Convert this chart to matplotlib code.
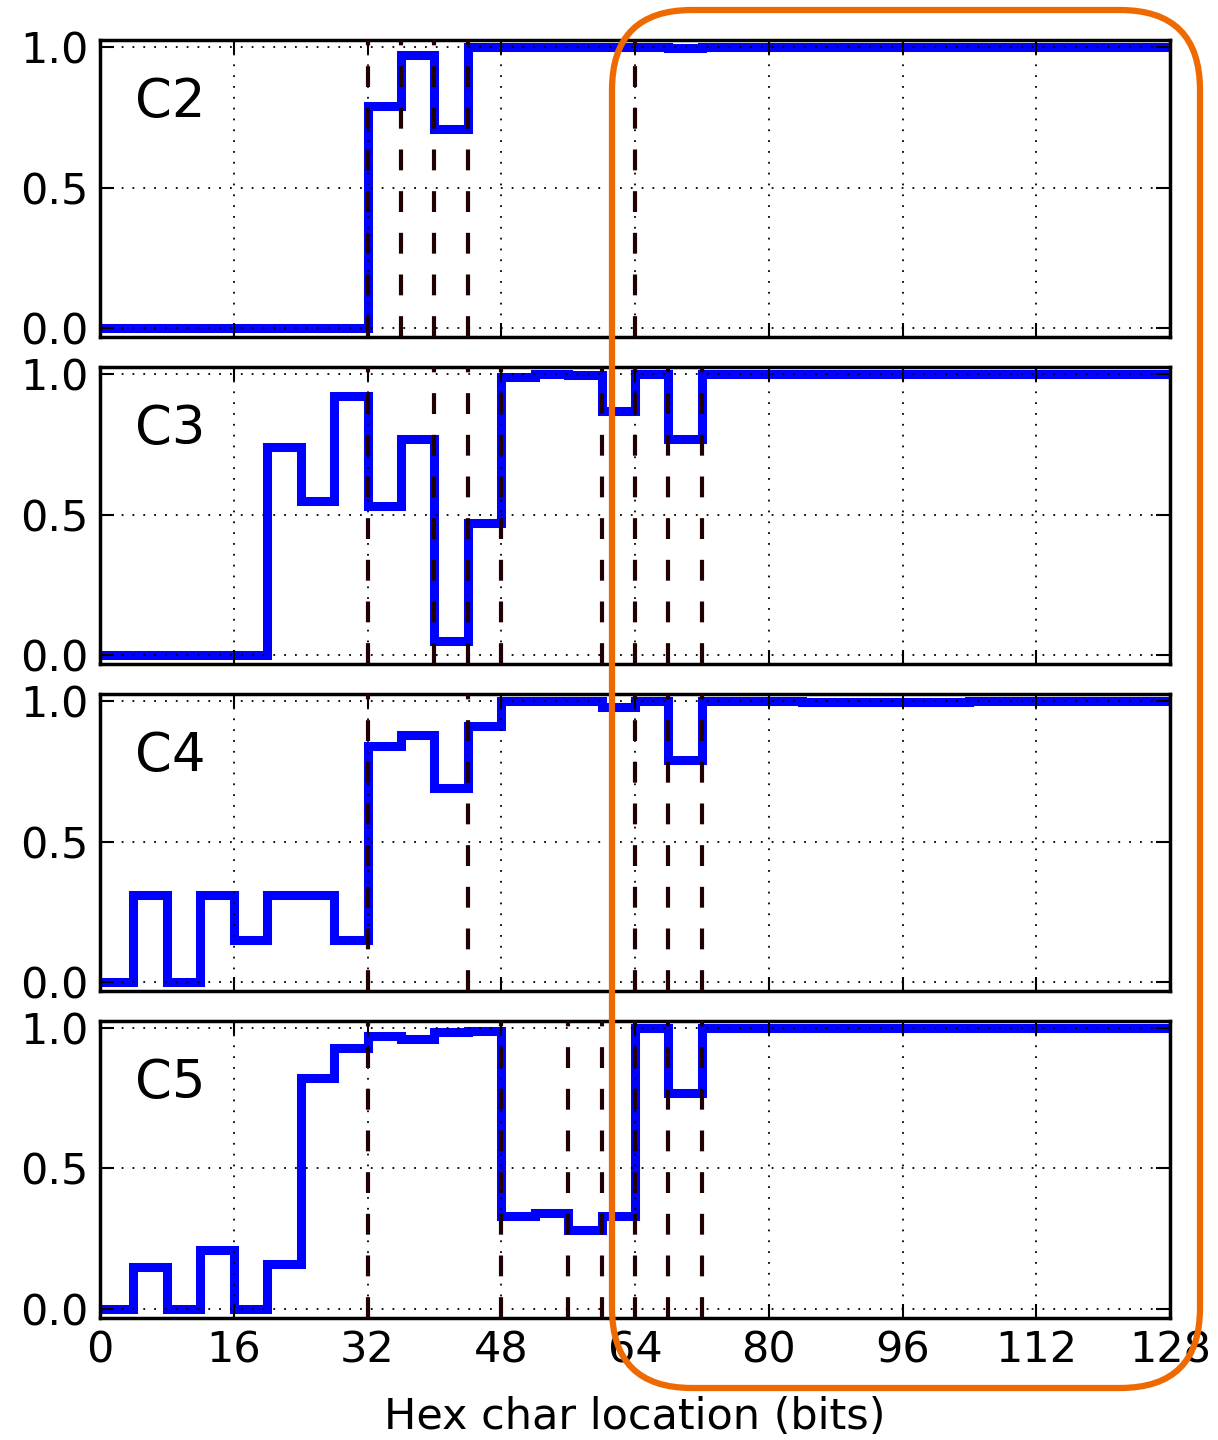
import matplotlib
matplotlib.use('Agg')
import matplotlib.pyplot as plt
from matplotlib.patches import FancyBboxPatch
import numpy as np

# bit position of each hex char boundary (32 chars x 4 bits)
edges = np.arange(0, 129, 4)

labels = ['C2', 'C3', 'C4', 'C5']

c2 = [0, 0, 0, 0, 0, 0, 0, 0,
      0.79, 0.97, 0.71, 1.0, 1.0, 1.0, 1.0, 1.0,
      1.0, 0.995, 1.0, 1.0, 1.0, 1.0, 1.0, 1.0,
      1.0, 1.0, 1.0, 1.0, 1.0, 1.0, 1.0, 1.0]
c3 = [0, 0, 0, 0, 0, 0.74, 0.55, 0.92,
      0.53, 0.77, 0.05, 0.47, 0.99, 1.0, 0.995, 0.87,
      1.0, 0.77, 1.0, 1.0, 1.0, 1.0, 1.0, 1.0,
      1.0, 1.0, 1.0, 1.0, 1.0, 1.0, 1.0, 1.0]
c4 = [0, 0.31, 0, 0.31, 0.15, 0.31, 0.31, 0.15,
      0.84, 0.88, 0.69, 0.91, 1.0, 1.0, 1.0, 0.98,
      1.0, 0.79, 1.0, 1.0, 1.0, 0.995, 0.995, 0.995,
      0.995, 0.995, 1.0, 1.0, 1.0, 1.0, 1.0, 1.0]
c5 = [0, 0.15, 0, 0.21, 0, 0.16, 0.82, 0.93,
      0.97, 0.96, 0.985, 0.99, 0.33, 0.34, 0.28, 0.33,
      1.0, 0.77, 1.0, 1.0, 1.0, 1.0, 1.0, 1.0,
      1.0, 1.0, 1.0, 1.0, 1.0, 1.0, 1.0, 1.0]
series = [c2, c3, c4, c5]

# dashed markers (bits)
marks = [
    [32, 36, 40, 44, 64],
    [32, 40, 44, 48, 60, 64, 68, 72],
    [32, 44, 64, 68, 72],
    [32, 48, 56, 60, 64, 68, 72],
]

xticks = [0, 16, 32, 48, 64, 80, 96, 112, 128]
yticks = [0.0, 0.5, 1.0]

fig, axes = plt.subplots(4, 1, figsize=(12.18, 14.4), dpi=100, sharex=True)
fig.subplots_adjust(left=0.0821, right=0.9606, top=0.9722, bottom=0.0847, hspace=0.1)

for ax, lab, vals, mk in zip(axes, labels, series, marks):
    ax.set_axisbelow(False)
    ax.stairs(vals, edges, baseline=None, color='#0000FF', lw=6.5, zorder=2)
    for m in mk:
        ax.axvline(m, color='#200000', lw=3, dashes=(5, 5), zorder=3)
    ax.set_xlim(0, 128)
    ax.set_ylim(-0.032, 1.025)
    ax.set_xticks(xticks)
    ax.set_yticks(yticks)
    ax.set_yticklabels(['0.0', '0.5', '1.0'])
    ax.grid(True, color='black', lw=1.3, linestyle=(0, (1, 5)))
    ax.tick_params(direction='in', length=10, width=1.5, top=True, right=True,
                   labelsize=31, pad=8)
    for s in ax.spines.values():
        s.set_linewidth(2.5)
    ax.text(0.033, 0.74, lab, transform=ax.transAxes, fontsize=38,
            ha='left', va='baseline')

axes[-1].set_xlabel('Hex char location (bits)', fontsize=31, labelpad=18)

# orange highlight box
box = FancyBboxPatch((6.12, 0.52), 5.88, 13.78,
                     boxstyle='round,pad=0,rounding_size=0.8',
                     transform=fig.dpi_scale_trans, fill=False,
                     edgecolor='#EE6A00', lw=4.5, zorder=10, clip_on=False)
fig.patches.append(box)

fig.savefig('out.png', dpi=100)
